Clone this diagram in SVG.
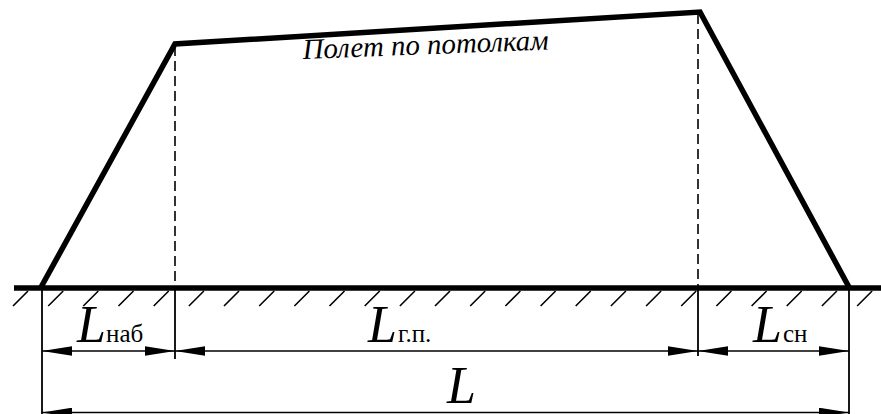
<svg xmlns="http://www.w3.org/2000/svg" width="881" height="414" viewBox="0 0 881 414">
<style>
.prof{fill:none;stroke:#000;stroke-width:5.5;stroke-linejoin:miter}
.ground{stroke:#000;stroke-width:5.5}
.hatch{stroke:#000;stroke-width:1.6;fill:none}
.dash{stroke:#000;stroke-width:1.6;stroke-dasharray:10 5}
.ext{stroke:#000;stroke-width:1.8}
.dim{stroke:#000;stroke-width:1.6;marker-start:url(#arr);marker-end:url(#arr)}
text{font-family:'Liberation Serif','DejaVu Serif',serif;fill:#000}
.big{font-style:italic;font-size:52px}
.sub{font-size:25px}
.lbl{font-style:italic;font-size:29px}
</style>
<defs>
<marker id="arr" markerUnits="userSpaceOnUse" viewBox="0 -5 30 10" refX="30" refY="0" markerWidth="30" markerHeight="10" orient="auto-start-reverse">
<path d="M0,-4.8 L30,0 L0,4.8 z" fill="#000"/>
</marker>
</defs>
<g id="ground">
<line class="ground" x1="14" y1="288" x2="881" y2="288"/>
<path class="hatch" d="M13,306l15,-15M48.2,306l15,-15M83.3,306l15,-15M118.5,306l15,-15M153.7,306l15,-15M188.9,306l15,-15M224,306l15,-15M259.2,306l15,-15M294.4,306l15,-15M329.5,306l15,-15M364.7,306l15,-15M399.9,306l15,-15M435,306l15,-15M470.2,306l15,-15M505.4,306l15,-15M540.6,306l15,-15M575.7,306l15,-15M610.9,306l15,-15M646.1,306l15,-15M681.2,306l15,-15M716.4,306l15,-15M751.6,306l15,-15M786.7,306l15,-15M821.9,306l15,-15M857.1,306l15,-15"/>
</g>
<g id="profile">
<polyline class="prof" points="40,289 175,44 700,12 850,289"/>
<text class="lbl" transform="translate(303,59) rotate(-2.2)" textLength="246" lengthAdjust="spacingAndGlyphs">Полет по потолкам</text>
</g>
<g id="connectors">
<line class="dash" x1="175" y1="46" x2="175" y2="288"/>
<line class="dash" x1="698" y1="14" x2="698" y2="288"/>
<line class="ext" x1="42" y1="288" x2="42" y2="414"/>
<line class="ext" x1="175" y1="288" x2="175" y2="359"/>
<line class="ext" x1="698" y1="288" x2="698" y2="356"/>
<line class="ext" x1="849" y1="288" x2="849" y2="414"/>
<line class="dim" x1="42" y1="351" x2="175" y2="351"/>
<line class="dim" x1="175" y1="351" x2="698" y2="351"/>
<line class="dim" x1="698" y1="351" x2="849" y2="351"/>
<line class="dim" x1="42" y1="412.5" x2="849" y2="412.5"/>
</g>
<g id="label-Lnab">
<text class="big" x="77" y="342">L</text><text class="sub" x="106" y="342">наб</text>
</g>
<g id="label-Lgp">
<text class="big" x="368" y="342">L</text><text class="sub" x="398" y="342">г.п.</text>
</g>
<g id="label-Lsn">
<text class="big" x="753" y="342">L</text><text class="sub" x="783" y="342">сн</text>
</g>
<g id="label-L">
<text class="big" x="447" y="403">L</text>
</g>
</svg>
